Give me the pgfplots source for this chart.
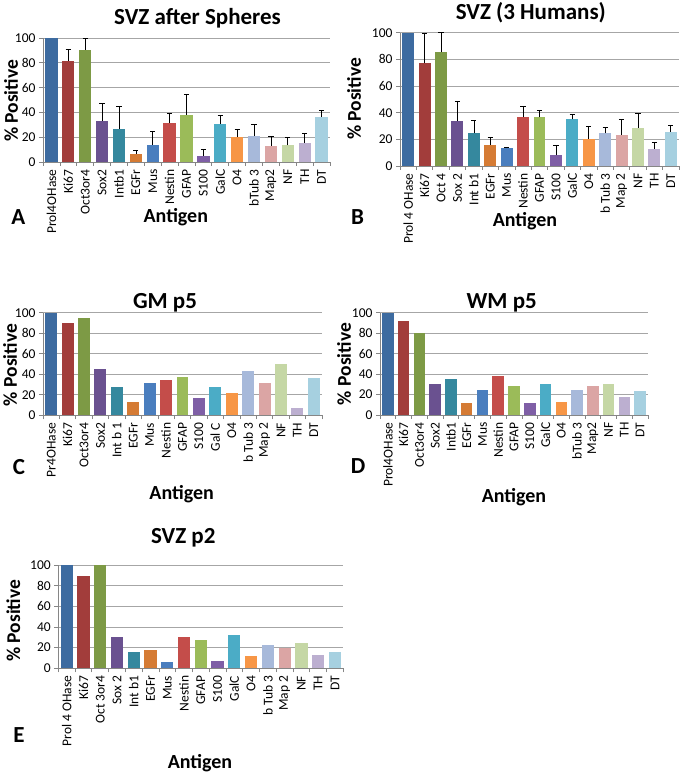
\documentclass[border=0pt]{standalone}
\usepackage{fontspec}
\setmainfont{Carlito}
\usepackage{pgfplots}
\usepackage{pgfplotstable}
\pgfplotsset{compat=1.18}

% Excel "vary colours by point" palette
\definecolor{c0}{HTML}{3D6BA0}
\definecolor{c1}{HTML}{A23D3B}
\definecolor{c2}{HTML}{7D9A45}
\definecolor{c3}{HTML}{6A5190}
\definecolor{c4}{HTML}{35889E}
\definecolor{c5}{HTML}{D57B34}
\definecolor{c6}{HTML}{4A7EBE}
\definecolor{c7}{HTML}{C44D4A}
\definecolor{c8}{HTML}{9BBB59}
\definecolor{c9}{HTML}{7F5FA6}
\definecolor{c10}{HTML}{4BACC6}
\definecolor{c11}{HTML}{F79646}
\definecolor{c12}{HTML}{A7B9DA}
\definecolor{c13}{HTML}{DBA5A4}
\definecolor{c14}{HTML}{C5D7A5}
\definecolor{c15}{HTML}{BCAFD0}
\definecolor{c16}{HTML}{A6D0E0}
\definecolor{axgray}{HTML}{868686}
\definecolor{gridgray}{HTML}{A6A6A6}

% x = category, y = % positive, e = error (+)
\pgfplotstableread{
x y e
0 100 0
1 81.7 9.3
2 90.6 9.4
3 32.8 14.8
4 26.9 18.0
5 6.7 2.7
6 14.0 10.7
7 31.7 7.8
8 38.2 16.1
9 5.1 5.1
10 30.9 7.0
11 19.9 6.4
12 21.2 8.9
13 13.2 7.5
14 13.4 6.2
15 15.6 7.2
16 36.6 4.8
}\dataA

\pgfplotstableread{
x y e
0 100 0
1 77.0 22.5
2 85.3 14.7
3 33.5 14.8
4 24.5 10.0
5 16.0 5.5
6 13.3 1.0
7 36.5 8.0
8 36.5 5.3
9 8.0 7.5
10 35.0 3.8
11 20.5 9.0
12 24.5 4.5
13 23.5 11.5
14 28.5 11.0
15 13.0 4.5
16 25.5 4.8
}\dataB

\pgfplotstableread{
x y
0 100
1 89.6
2 94.8
3 44.8
4 27.6
5 12.7
6 31.5
7 34.7
8 37.3
9 17.2
10 27.6
11 21.8
12 42.9
13 31.5
14 49.7
15 6.8
16 36.7
}\dataC

\pgfplotstableread{
x y
0 100
1 91.9
2 79.8
3 30.0
4 34.9
5 12.0
6 24.8
7 37.8
8 28.0
9 11.7
10 30.0
11 13.0
12 24.8
13 28.0
14 30.0
15 17.9
16 23.1
}\dataD

\pgfplotstableread{
x y
0 100
1 89.7
2 100
3 30.0
4 16.1
5 18.0
6 6.1
7 30.3
8 27.4
9 6.8
10 31.9
11 11.9
12 22.3
13 20.0
14 24.5
15 12.6
16 16.1
}\dataE

\pgfplotsset{
  antigen/.style={
    scale only axis, anchor=south west,
    ymin=0, ymax=100, ytick={0,20,...,100},
    xmin=-0.5, xmax=16.5,
    xtick={-0.5,0.5,...,16.5},
    x tick label as interval,
    axis x line*=bottom, axis y line*=left,
    axis line style={axgray, line width=0.7pt},
    ymajorgrids, grid style={gridgray, line width=0.7pt},
    tick align=outside, major tick length=4pt,
    tick style={axgray, line width=0.7pt},
    ticklabel style={font=\fontsize{13.5}{13.5}\selectfont},
    xticklabel style={rotate=90, anchor=east},
    /pgf/number format/assume math mode=true,
    ybar, bar shift=0pt, bar width=0.73,
  },
  errs/.style={draw=none, fill=none, forget plot,
    restrict x to domain=1:16,
    error bars/.cd, y dir=plus, y explicit,
    error bar style={draw=black, line width=0.7pt},
    error mark options={draw=black, rotate=90, mark size=2.6pt, line width=0.7pt}},
}

\newcommand\bars[1]{%
  \pgfplotsinvokeforeach{0,...,16}{%
    \addplot[fill=c##1, draw=none, restrict x to domain=##1:##1] table[x=x,y=y]{#1};}}

\tikzset{
  ttl/.style={anchor=base, font=\bfseries\fontsize{23}{23}\selectfont},
  xlab/.style={anchor=base, font=\bfseries\fontsize{20}{20}\selectfont},
  letter/.style={anchor=base, font=\bfseries\fontsize{23}{23}\selectfont},
  ylab/.style={rotate=90, font=\bfseries\fontsize{19.5}{19.5}\selectfont},
}

\begin{document}
\begin{tikzpicture}
\path[use as bounding box] (0pt,0pt) rectangle (683pt,775pt);

% A
\begin{axis}[antigen, at={(43pt,613pt)}, width=287pt, height=124pt,
  xticklabels={Prol4OHase,Ki67,Oct3or4,Sox2,Intb1,EGFr,Mus,Nestin,GFAP,S100,GalC,O4,bTub 3,Map2,NF,TH,DT}]
\bars{\dataA}
\addplot[errs] table[x=x, y=y, y error=e]{\dataA};
\end{axis}
\node[ttl] at (197.5pt,750pt) {SVZ after Spheres};
\node[xlab] at (175.8pt,552.3pt) {Antigen};
\node[letter] at (18.3pt,550pt) {A};
\node[ylab] at (11pt,674pt) {\% Positive};

% B
\begin{axis}[antigen, at={(400pt,609pt)}, width=279pt, height=133.3pt,
  xticklabels={Prol 4 OHase,Ki67,Oct 4,Sox 2,Int b1,EGFr,Mus,Nestin,GFAP,S100,GalC,O4,b Tub 3,Map 2,NF,TH,DT}]
\bars{\dataB}
\addplot[errs] table[x=x, y=y, y error=e]{\dataB};
\end{axis}
\node[ttl] at (530.8pt,755pt) {SVZ (3 Humans)};
\node[xlab] at (525pt,548.3pt) {Antigen};
\node[letter] at (357.5pt,550pt) {B};
\node[ylab] at (354pt,676pt) {\% Positive};

% C
\begin{axis}[antigen, at={(43pt,359.7pt)}, width=279pt, height=102.6pt,
  xticklabels={Pr4OHase,Ki67,Oct3or4,Sox2,Int b 1,EGFr,Mus,Nestin,GFAP,S100,Gal C,O4,b Tub 3,Map 2,NF,TH,DT}]
\bars{\dataC}
\end{axis}
\node[ttl] at (165pt,466.7pt) {GM p5};
\node[xlab] at (181.7pt,275.7pt) {Antigen};
\node[letter] at (19pt,300pt) {C};
\node[ylab] at (10pt,410pt) {\% Positive};

% D
\begin{axis}[antigen, at={(380pt,360pt)}, width=268pt, height=102.3pt,
  xticklabels={Prol4OHase,Ki67,Oct3or4,Sox2,Intb1,EGFr,Mus,Nestin,GFAP,S100,GalC,O4,bTub 3,Map2,NF,TH,DT}]
\bars{\dataD}
\end{axis}
\node[ttl] at (501.7pt,466pt) {WM p5};
\node[xlab] at (514pt,272.3pt) {Antigen};
\node[letter] at (358pt,301.7pt) {D};
\node[ylab] at (344pt,411pt) {\% Positive};

% E
\begin{axis}[antigen, at={(58.3pt,106.7pt)}, width=285pt, height=103.3pt,
  xticklabels={Prol 4 OHase,Ki67,Oct 3or4,Sox 2,Int b1,EGFr,Mus,Nestin,GFAP,S100,GalC,O4,b Tub 3,Map 2,NF,TH,DT}]
\bars{\dataE}
\end{axis}
\node[ttl] at (183.3pt,231pt) {SVZ p2};
\node[xlab] at (200pt,6.7pt) {Antigen};
\node[letter] at (19pt,32.3pt) {E};
\node[ylab] at (13.3pt,154.2pt) {\% Positive};
\end{tikzpicture}
\end{document}
